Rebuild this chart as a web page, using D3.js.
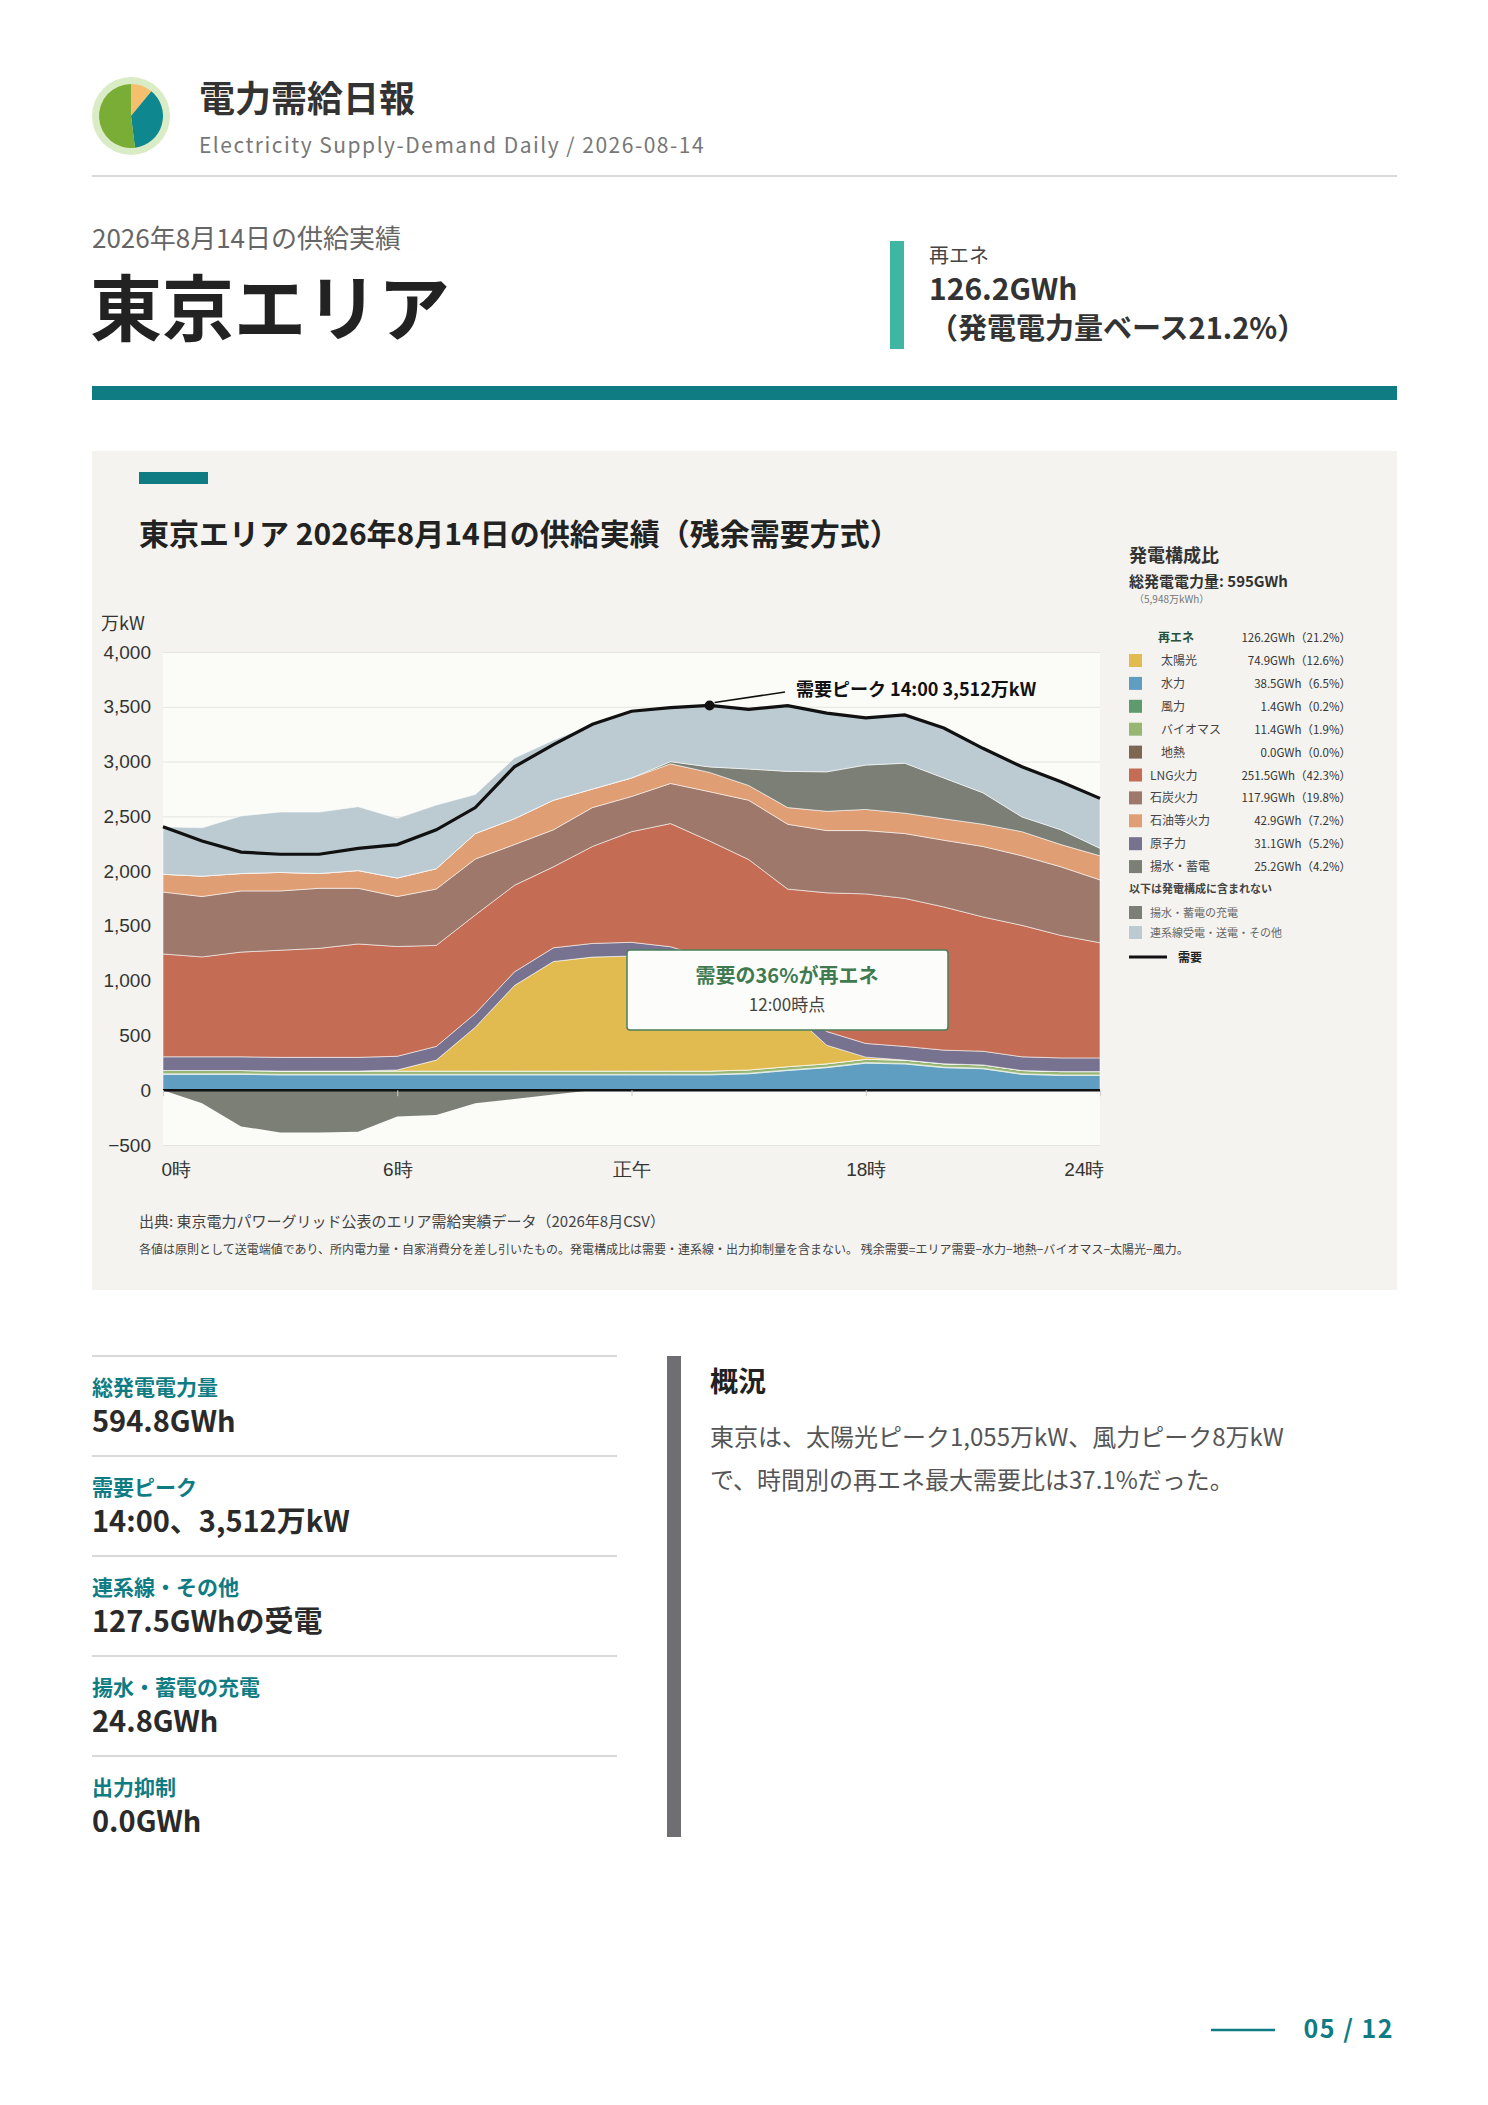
<!DOCTYPE html>
<html lang="ja">
<head>
<meta charset="utf-8">
<script src="https://cdn.jsdelivr.net/npm/d3@7"></script>
<style>
  body { margin: 0; background: #fff; }
  svg { font-family: "Noto Sans CJK JP", "Noto Sans", sans-serif; }
</style>
</head>
<body>
<svg id="page" width="1488" height="2105"></svg>
<script>
// ---- data (万kW, hourly 0..24) ----
const hours = d3.range(0, 25)
const demand = [2404, 2275, 2174, 2154, 2154, 2208, 2242, 2377, 2580, 2952, 3155, 3340, 3459, 3493, 3512, 3476, 3510, 3442, 3398, 3425, 3306, 3121, 2952, 2816, 2664]
const hydro = [145, 145, 145, 140, 140, 140, 140, 140, 140, 140, 140, 140, 140, 140, 140, 150, 180, 206, 247, 240, 206, 196, 145, 135, 135]
const wind = [5, 5, 5, 5, 5, 5, 5, 5, 5, 5, 5, 5, 5, 5, 5, 5, 5, 5, 5, 5, 5, 5, 5, 5, 5]
const biomass = [30, 30, 30, 30, 30, 30, 30, 30, 30, 30, 30, 30, 30, 30, 30, 30, 30, 30, 30, 30, 30, 30, 30, 30, 30]
const geothermal = [0, 0, 0, 0, 0, 0, 0, 0, 0, 0, 0, 0, 0, 0, 0, 0, 0, 0, 0, 0, 0, 0, 0, 0, 0]
const solar = [0, 0, 0, 0, 0, 0, 10, 100, 400, 780, 1000, 1040, 1050, 1010, 900, 790, 520, 170, 20, 0, 0, 0, 0, 0, 0]
const nuclear = [125, 125, 125, 125, 125, 125, 125, 125, 125, 125, 125, 125, 125, 125, 125, 125, 125, 125, 125, 125, 125, 125, 125, 125, 125]
const lng = [939, 912, 956, 978, 995, 1035, 1002, 922, 900, 790, 739, 885, 1010, 1124, 1075, 1006, 976, 1266, 1365, 1351, 1307, 1226, 1200, 1118, 1051]
const coal = [565, 551, 558, 541, 548, 508, 456, 514, 510, 372, 338, 355, 321, 366, 450, 541, 592, 568, 578, 592, 609, 643, 635, 626, 574]
const oil = [162, 186, 159, 169, 135, 162, 169, 186, 233, 236, 270, 169, 169, 179, 176, 135, 152, 176, 193, 186, 196, 203, 220, 203, 220]
const pumped = [0, 0, 0, 0, 0, 0, 0, 0, 0, 0, 0, 0, 0, 20, 50, 150, 330, 360, 405, 456, 372, 287, 135, 135, 68]
const tieline = [433, 441, 526, 551, 561, 583, 545, 581, 357, 554, 548, 591, 609, 494, 559, 544, 600, 536, 430, 440, 456, 406, 457, 439, 456]
const charge = [0, -120, -330, -385, -385, -380, -240, -226, -120, -80, -40, 0, 0, 0, 0, 0, 0, 0, 0, 0, 0, 0, 0, 0, 0]

const yTicks = [-500, 0, 500, 1000, 1500, 2000, 2500, 3000, 3500, 4000]
const xTicks = [0, 6, 12, 18, 24]
const xTickLabels = ["0時", "6時", "正午", "18時", "24時"]

const layers = [
  { key: "hydro", name: "水力", values: hydro, color: "#5f9ec0" },
  { key: "wind", name: "風力", values: wind, color: "#5e9a6e" },
  { key: "biomass", name: "バイオマス", values: biomass, color: "#97b673" },
  { key: "geo", name: "地熱", values: geothermal, color: "#7d6652" },
  { key: "solar", name: "太陽光", values: solar, color: "#e2bb50" },
  { key: "nuclear", name: "原子力", values: nuclear, color: "#77728f" },
  { key: "lng", name: "LNG火力", values: lng, color: "#c46d54" },
  { key: "coal", name: "石炭火力", values: coal, color: "#9e786b" },
  { key: "oil", name: "石油等火力", values: oil, color: "#e09e74" },
  { key: "pumped", name: "揚水・蓄電", values: pumped, color: "#7b7f75" },
  { key: "tie", name: "連系線", values: tieline, color: "#bccbd2" }
]

const legendRows = [
  { name: "太陽光", val: "74.9GWh（12.6%）", color: "#e2bb50", indent: true },
  { name: "水力", val: "38.5GWh（6.5%）", color: "#5f9ec0", indent: true },
  { name: "風力", val: "1.4GWh（0.2%）", color: "#5e9a6e", indent: true },
  { name: "バイオマス", val: "11.4GWh（1.9%）", color: "#97b673", indent: true },
  { name: "地熱", val: "0.0GWh（0.0%）", color: "#7d6652", indent: true },
  { name: "LNG火力", val: "251.5GWh（42.3%）", color: "#c46d54" },
  { name: "石炭火力", val: "117.9GWh（19.8%）", color: "#9e786b" },
  { name: "石油等火力", val: "42.9GWh（7.2%）", color: "#e09e74" },
  { name: "原子力", val: "31.1GWh（5.2%）", color: "#77728f" },
  { name: "揚水・蓄電", val: "25.2GWh（4.2%）", color: "#7b7f75" }
]

const kpis = [
  ["総発電電力量", "594.8GWh"],
  ["需要ピーク", "14:00、3,512万kW"],
  ["連系線・その他", "127.5GWhの受電"],
  ["揚水・蓄電の充電", "24.8GWh"],
  ["出力抑制", "0.0GWh"]
]

const teal = "#0f7c84"
const svg = d3.select("#page")

// ---- header ----
const logo = svg.append("g").attr("transform", "translate(131,116)")
logo.append("circle").attr("r", 39).attr("fill", "#d9ecc6")
const pie = d3.pie().sort(null)([11, 37, 52])
const arc = d3.arc().innerRadius(0).outerRadius(32)
logo.selectAll("path").data(pie).enter().append("path")
  .attr("d", arc).attr("fill", (d, i) => ["#f6bf6e", "#0f878e", "#79ad36"][i])

svg.append("text").text("電力需給日報").attr("x", 199).attr("y", 112)
  .attr("font-size", 36).attr("font-weight", "bold").attr("fill", "#333")
svg.append("text").text("Electricity Supply-Demand Daily / 2026-08-14").attr("x", 199).attr("y", 153)
  .attr("font-size", 21).attr("fill", "#777").attr("letter-spacing", 1.5)
svg.append("line").attr("x1", 92).attr("x2", 1397).attr("y1", 176).attr("y2", 176).attr("stroke", "#ccc").attr("stroke-width", 1.5)

svg.append("text").text("2026年8月14日の供給実績").attr("x", 92).attr("y", 248)
  .attr("font-size", 26).attr("fill", "#666")
svg.append("text").text("東京エリア").attr("x", 90).attr("y", 335)
  .attr("font-size", 72).attr("font-weight", "bold").attr("fill", "#222")
svg.append("rect").attr("x", 890).attr("y", 241).attr("width", 14).attr("height", 108).attr("fill", "#3fb6a2")
svg.append("text").text("再エネ").attr("x", 929).attr("y", 263).attr("font-size", 20).attr("fill", "#444")
svg.append("text").text("126.2GWh").attr("x", 929).attr("y", 300).attr("font-size", 30).attr("font-weight", "bold").attr("fill", "#333")
svg.append("text").text("（発電電力量ベース21.2%）").attr("x", 929).attr("y", 339).attr("font-size", 29).attr("font-weight", "bold").attr("fill", "#333")
svg.append("rect").attr("x", 92).attr("y", 386).attr("width", 1305).attr("height", 14).attr("fill", teal)

// ---- chart panel ----
svg.append("rect").attr("x", 92).attr("y", 451).attr("width", 1305).attr("height", 839).attr("fill", "#f4f3f0")
svg.append("rect").attr("x", 139).attr("y", 472).attr("width", 69).attr("height", 12).attr("fill", teal)
svg.append("text").text("東京エリア 2026年8月14日の供給実績（残余需要方式）").attr("x", 139).attr("y", 545)
  .attr("font-size", 30).attr("font-weight", "bold").attr("fill", "#222")

const x = d3.scaleLinear().domain([0, 24]).range([163, 1100])
const y = d3.scaleLinear().domain([-500, 4000]).range([1145, 652])

const plot = svg.append("g")
plot.append("rect").attr("x", x(0)).attr("y", y(4000)).attr("width", x(24) - x(0)).attr("height", y(-500) - y(4000)).attr("fill", "#fbfbf8")

// grid + y axis
const axisY = d3.axisLeft(y).tickValues(yTicks).tickSize(-(x(24) - x(0))).tickFormat(d3.format(","))
const gy = plot.append("g").attr("transform", `translate(${x(0)},0)`).call(axisY)
gy.select(".domain").remove()
gy.selectAll("line").attr("stroke", "#e4e4e0")
gy.selectAll("text").attr("font-size", 19).attr("fill", "#333").attr("x", -12)
plot.append("text").text("万kW").attr("x", 101).attr("y", 630).attr("font-size", 18).attr("fill", "#333")

// stacked areas
const table = hours.map((h, i) => {
  const row = { h }
  layers.forEach(l => row[l.key] = l.values[i])
  return row
})
const stack = d3.stack().keys(layers.map(l => l.key))(table)
const area = d3.area().x(d => x(d.data.h)).y0(d => y(d[0])).y1(d => y(d[1]))
plot.selectAll(".layer").data(stack).enter().append("path")
  .attr("d", area).attr("fill", (d, i) => layers[i].color)
  .attr("stroke", "#ffffff").attr("stroke-width", 0.8).attr("stroke-opacity", 0.7)

plot.append("path").datum(charge)
  .attr("d", d3.area().x((d, i) => x(hours[i])).y0(y(0)).y1(d => y(d)))
  .attr("fill", "#7b7f75")

// x axis
plot.append("line").attr("x1", x(0)).attr("x2", x(24)).attr("y1", y(0)).attr("y2", y(0)).attr("stroke", "#111").attr("stroke-width", 2.5)
const axisX = d3.axisBottom(x).tickValues(xTicks).tickSize(6).tickFormat((d, i) => xTickLabels[i])
const gx = plot.append("g").attr("transform", `translate(0,${y(0)})`).call(axisX)
gx.select(".domain").remove()
gx.selectAll("line").attr("stroke", "#ccc")
gx.selectAll("text").attr("font-size", 19).attr("fill", "#333").attr("dy", 0).attr("y", y(-500) - y(0) + 31)
gx.selectAll("text").attr("text-anchor", (d, i) => i === 0 ? "start" : i === 4 ? "end" : "middle")
  .attr("dx", (d, i) => i === 0 ? -2 : i === 4 ? 4 : 0)

// demand line
plot.append("path").datum(demand)
  .attr("d", d3.line().x((d, i) => x(hours[i])).y(d => y(d)))
  .attr("fill", "none").attr("stroke", "#111").attr("stroke-width", 3.2)

// peak annotation
const pk = demand.indexOf(d3.max(demand))
plot.append("circle").attr("cx", x(hours[pk])).attr("cy", y(demand[pk])).attr("r", 5).attr("fill", "#111")
plot.append("line").attr("x1", x(hours[pk]) + 5).attr("y1", y(demand[pk]) - 3).attr("x2", 785).attr("y2", 692).attr("stroke", "#111").attr("stroke-width", 1.5)
plot.append("text").text("需要ピーク 14:00 3,512万kW").attr("x", 796).attr("y", 696)
  .attr("font-size", 18).attr("font-weight", "bold").attr("fill", "#111")

// renewable share box
const box = plot.append("g").attr("transform", "translate(627,950)")
box.append("rect").attr("width", 321).attr("height", 80).attr("rx", 3).attr("fill", "#fcfcfa").attr("stroke", "#4a7f5a").attr("stroke-width", 1.5)
box.append("text").text("需要の36%が再エネ").attr("x", 160).attr("y", 33).attr("text-anchor", "middle")
  .attr("font-size", 20).attr("font-weight", "bold").attr("fill", "#3f7a50")
box.append("text").text("12:00時点").attr("x", 160).attr("y", 61).attr("text-anchor", "middle")
  .attr("font-size", 17).attr("fill", "#444")

// ---- legend ----
const lg = svg.append("g")
lg.append("text").text("発電構成比").attr("x", 1129).attr("y", 562).attr("font-size", 18).attr("font-weight", "bold").attr("fill", "#333")
lg.append("text").text("総発電電力量: 595GWh").attr("x", 1129).attr("y", 587).attr("font-size", 15).attr("font-weight", "bold").attr("fill", "#333")
lg.append("text").text("（5,948万kWh）").attr("x", 1134).attr("y", 603).attr("font-size", 10).attr("fill", "#777")
lg.append("text").text("再エネ").attr("x", 1158).attr("y", 642).attr("font-size", 12).attr("font-weight", "bold").attr("fill", "#24503a")
lg.append("text").text("126.2GWh（21.2%）").attr("x", 1351).attr("y", 642).attr("text-anchor", "end").attr("font-size", 11.5).attr("fill", "#333")
legendRows.forEach((r, i) => {
  const yy = 665 + i * 22.9
  lg.append("rect").attr("x", 1129).attr("y", yy - 11).attr("width", 13).attr("height", 13).attr("fill", r.color)
  lg.append("text").text(r.name).attr("x", r.indent ? 1161 : 1150).attr("y", yy).attr("font-size", 12).attr("fill", "#444")
  lg.append("text").text(r.val).attr("x", 1351).attr("y", yy).attr("text-anchor", "end").attr("font-size", 11.5).attr("fill", "#333")
})
lg.append("text").text("以下は発電構成に含まれない").attr("x", 1129).attr("y", 893).attr("font-size", 11).attr("font-weight", "bold").attr("fill", "#444")
;[["揚水・蓄電の充電", "#7b7f75", 917], ["連系線受電・送電・その他", "#bccbd2", 937]].forEach(d => {
  lg.append("rect").attr("x", 1129).attr("y", d[2] - 11).attr("width", 13).attr("height", 13).attr("fill", d[1])
  lg.append("text").text(d[0]).attr("x", 1150).attr("y", d[2]).attr("font-size", 11).attr("fill", "#666")
})
lg.append("line").attr("x1", 1129).attr("x2", 1167).attr("y1", 957).attr("y2", 957).attr("stroke", "#111").attr("stroke-width", 3)
lg.append("text").text("需要").attr("x", 1178).attr("y", 962).attr("font-size", 12).attr("font-weight", "bold").attr("fill", "#222")

// source notes
svg.append("text").text("出典: 東京電力パワーグリッド公表のエリア需給実績データ（2026年8月CSV）").attr("x", 139).attr("y", 1227)
  .attr("font-size", 15).attr("fill", "#444")
svg.append("text").text("各値は原則として送電端値であり、所内電力量・自家消費分を差し引いたもの。発電構成比は需要・連系線・出力抑制量を含まない。 残余需要=エリア需要−水力−地熱−バイオマス−太陽光−風力。")
  .attr("x", 139).attr("y", 1254).attr("font-size", 12).attr("fill", "#444")

// ---- KPIs ----
kpis.forEach((k, i) => {
  const y0 = 1356 + i * 100
  svg.append("line").attr("x1", 92).attr("x2", 617).attr("y1", y0).attr("y2", y0).attr("stroke", "#ccc").attr("stroke-width", 1.5)
  svg.append("text").text(k[0]).attr("x", 92).attr("y", y0 + 39).attr("font-size", 21).attr("font-weight", "bold").attr("fill", teal)
  svg.append("text").text(k[1]).attr("x", 92).attr("y", y0 + 76).attr("font-size", 29).attr("font-weight", "bold").attr("fill", "#2a2a2a")
})

svg.append("rect").attr("x", 667).attr("y", 1356).attr("width", 14).attr("height", 481).attr("fill", "#6f6f73")
svg.append("text").text("概況").attr("x", 710).attr("y", 1392).attr("font-size", 28).attr("font-weight", "bold").attr("fill", "#222")
svg.append("text").text("東京は、太陽光ピーク1,055万kW、風力ピーク8万kW").attr("x", 710).attr("y", 1446).attr("font-size", 24).attr("fill", "#555")
svg.append("text").text("で、時間別の再エネ最大需要比は37.1%だった。").attr("x", 710).attr("y", 1489).attr("font-size", 24).attr("fill", "#555")

// footer
svg.append("line").attr("x1", 1211).attr("x2", 1275).attr("y1", 2030).attr("y2", 2030).attr("stroke", teal).attr("stroke-width", 2.5)
svg.append("text").text("05 / 12").attr("x", 1394).attr("y", 2038).attr("text-anchor", "end")
  .attr("font-size", 25).attr("font-weight", "bold").attr("fill", teal).attr("letter-spacing", 1.5)
</script>
</body>
</html>
